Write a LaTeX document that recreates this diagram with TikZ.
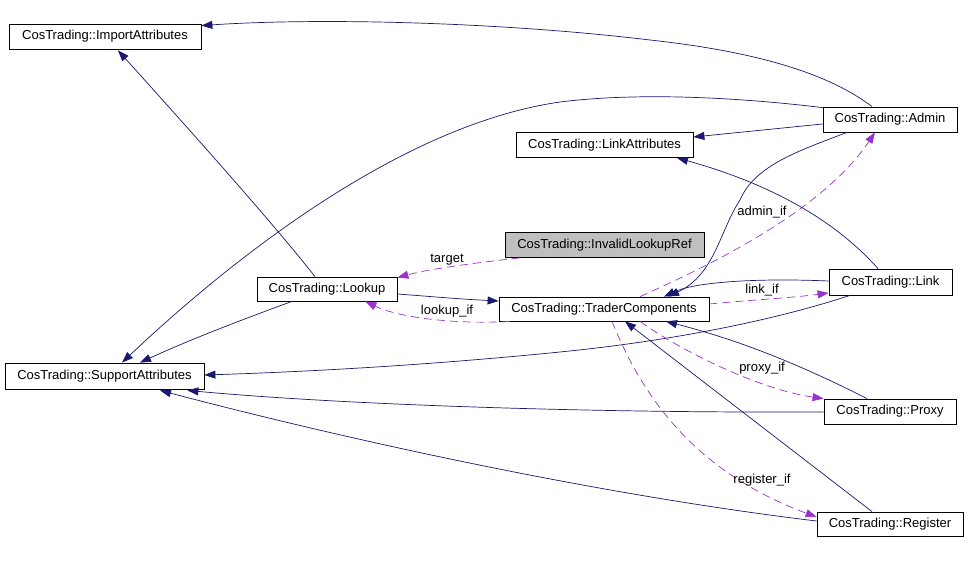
\documentclass[tikz,border=0pt]{standalone}
\usepackage{fontspec}
\setmainfont{Liberation Sans}
\usetikzlibrary{arrows.meta}
\definecolor{navyln}{HTML}{191970}
\definecolor{orchid}{HTML}{9A32CD}
\definecolor{grayfill}{HTML}{BFBFBF}
\begin{document}
\begin{tikzpicture}[x=1pt,y=-1pt,
  cls/.style={draw=black,line width=0.8pt,fill=white,inner sep=0pt,
    font=\fontsize{13}{15}\selectfont},
  inh/.style={draw=navyln,line width=0.7pt,-{Triangle[length=11pt,width=8pt]},navyln},
  use/.style={draw=orchid,line width=0.7pt,dash pattern=on 8pt off 5pt,
    -{Triangle[length=11pt,width=8pt]},orchid},
  lbl/.style={font=\fontsize{13}{15}\selectfont,inner sep=1pt,text=black}]
\useasboundingbox (0,0) rectangle (968,585);
\fill[white] (0,0) rectangle (968,585);

\node[cls,minimum width=192pt,minimum height=25pt] (import) at (105,36.5) {CosTrading::ImportAttributes};
\node[cls,minimum width=177pt,minimum height=25pt] (linkattr) at (604.5,145) {CosTrading::LinkAttributes};
\node[cls,minimum width=134pt,minimum height=25pt] (admin) at (890,119.5) {CosTrading::Admin};
\node[cls,fill=grayfill,minimum width=199pt,minimum height=25pt] (invalid) at (604.5,245) {CosTrading::InvalidLookupRef};
\node[cls,minimum width=123pt,minimum height=26pt] (link) at (890.5,282) {CosTrading::Link};
\node[cls,minimum width=210pt,minimum height=24pt] (trader) at (604,309) {CosTrading::TraderComponents};
\node[cls,minimum width=140pt,minimum height=24pt] (lookup) at (327,289) {CosTrading::Lookup};
\node[cls,minimum width=199pt,minimum height=26pt] (support) at (104.5,376) {CosTrading::SupportAttributes};
\node[cls,minimum width=132pt,minimum height=25pt] (proxy) at (890,411.5) {CosTrading::Proxy};
\node[cls,minimum width=146pt,minimum height=24pt] (register) at (890,524) {CosTrading::Register};

% Admin
\draw[inh] ([xshift=-18pt]admin.north) .. controls +(-42,-32) and +(110,12) .. (650,40)
  .. controls +(-150,-18) and +(118,-8) .. ([yshift=-2pt]import.north east);
\draw[inh] ([yshift=-1pt]admin.north west) .. controls +(-83,-10) and +(80,-10) .. (560,102)
  .. controls +(-160,23) and +(108,-102) .. ([xshift=17.5pt]support.north);
\draw[inh] ([yshift=-4.5pt]admin.west) -- ([yshift=8pt]linkattr.east);
\draw[inh] ([xshift=-43pt]admin.south) .. controls +(-47,18) and +(15,-35) .. (740,200)
  .. controls +(-20,30) and +(47,-22) .. ([xshift=64pt]trader.north);
\draw[use] ([xshift=36pt]trader.north) .. controls +(60,-27) and +(-55,82) .. ([xshift=-15pt]admin.south);
\node[lbl] (ladmin) at (762,212) {admin\_if};

% Link
\draw[inh] ([xshift=-12.5pt]link.north) .. controls +(-48,-54) and +(83,23) .. ([xshift=72.5pt]linkattr.south);
\draw[inh] ([yshift=1pt]link.west) .. controls +(-69,-3) and +(32,-15) .. ([xshift=60pt]trader.north);
\draw[use] ([yshift=5pt]trader.east) .. controls +(41,-4) and +(-39,5) .. ([yshift=-11pt]link.west);
\node[lbl] (llink) at (762,290) {link\_if};
\draw[inh] ([xshift=-40.5pt]link.south) .. controls +(-70,23) and +(120,-12) .. (560,352)
  .. controls +(-140,14) and +(95,-3) .. ([yshift=1pt]support.east);

% Proxy
\draw[inh] ([xshift=-23pt]proxy.north) .. controls +(-67,-34) and +(74,19) .. ([xshift=62pt]trader.south);
\draw[use] ([xshift=36pt]trader.south) .. controls +(40,29) and +(-64,-9) .. (proxy.north west);
\node[lbl] (lproxy) at (762,368) {proxy\_if};
\draw[inh] ([yshift=-0.5pt]proxy.west) .. controls +(-224,1) and +(163,15) .. ([xshift=-17pt,yshift=-1pt]support.south east);

% Register
\draw[inh] ([xshift=-18pt]register.north) -- ([xshift=21pt]trader.south);
\draw[use] ([xshift=8pt]trader.south) .. controls +(28,69) and +(-127,-47) .. ([yshift=7pt]register.west);
\node[lbl] (lregister) at (762,480) {register\_if};
\draw[inh] ([yshift=3pt]register.west) .. controls +(-217,-26) and +(190,50) .. ([xshift=55.5pt,yshift=-1pt]support.south);

% Lookup
\draw[inh] ([xshift=-12pt]lookup.north) .. controls +(-45,-57) and +(72,80) .. ([xshift=13pt,yshift=-1pt]import.south);
\draw[inh] ([xshift=-35pt]lookup.south) .. controls +(-52,19) and +(50,-23) .. ([xshift=35.5pt]support.north);
\draw[inh] ([yshift=-5pt]lookup.east) .. controls +(40,3) and +(-40,-2) .. ([yshift=8pt]trader.west);
\draw[use] ([xshift=15pt]invalid.south west) .. controls +(-40,4.5) and +(33,-9) .. ([yshift=-1pt]lookup.north east);
\node[lbl] (ltarget) at (447,260) {target};
\draw[use] ([xshift=11pt]trader.south west) .. controls +(-50,3) and +(35,17) .. ([xshift=-32pt]lookup.south east);
\node[lbl] (llookup) at (447,311) {lookup\_if};
\end{tikzpicture}
\end{document}
